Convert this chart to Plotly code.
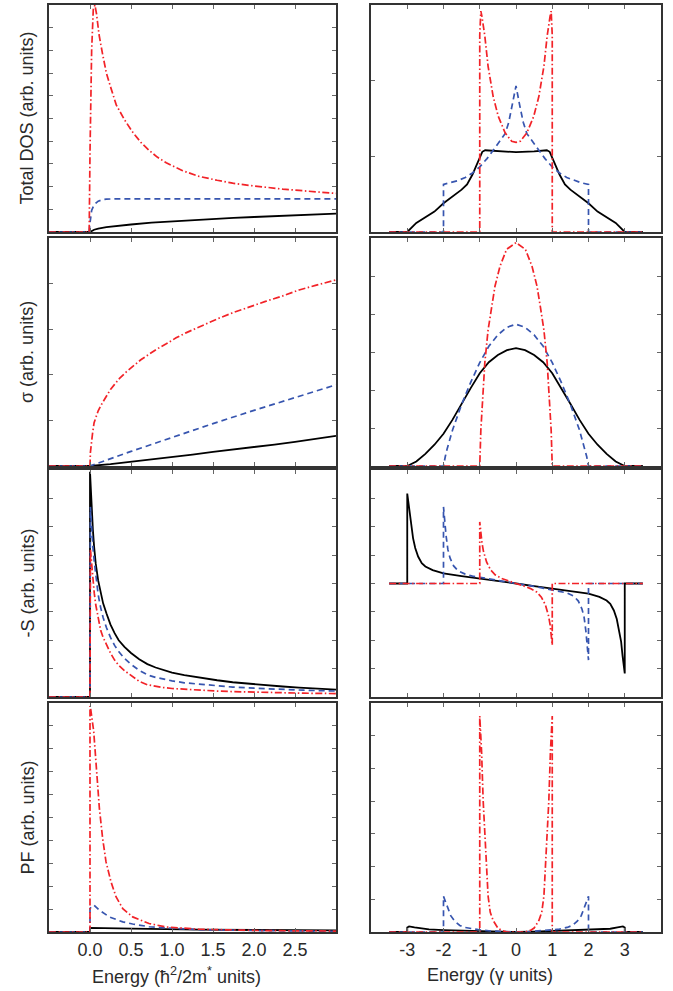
import plotly.graph_objects as go

# ---------------- data ----------------
# Row 1 left : Total DOS, parabolic band
dosL_E_black = [-0.5, 0.0, 0.05, 0.1, 0.2, 0.35, 0.5, 0.75, 1.0, 1.25, 1.5, 1.75, 2.0, 2.25, 2.5, 2.75, 3.0]
dosL_black = [0, 0, 0.10, 0.15, 0.21, 0.28, 0.33, 0.41, 0.47, 0.52, 0.57, 0.62, 0.66, 0.70, 0.74, 0.78, 0.81]
dosL_E_blue = [-0.5, -0.01, 0.0, 0.02, 0.05, 0.1, 0.15, 0.2, 0.3, 0.5, 1.0, 2.0, 3.0]
dosL_blue = [0, 0, 0.4, 0.95, 1.2, 1.36, 1.42, 1.45, 1.46, 1.46, 1.46, 1.46, 1.46]
dosL_E_red = [-0.5, -0.01, 0.0, 0.02, 0.04, 0.06, 0.08, 0.11, 0.15, 0.2, 0.25, 0.32, 0.42, 0.52, 0.62, 0.72,
              0.82, 0.93, 1.13, 1.33, 1.55, 1.74, 1.95, 2.15, 2.35, 2.55, 2.75, 3.0]
dosL_red = [0, 0, 3.5, 8.0, 9.8, 10.0, 9.6, 8.7, 7.9, 7.0, 6.4, 5.6, 4.95, 4.4, 3.95, 3.6,
            3.3, 3.05, 2.7, 2.45, 2.28, 2.15, 2.05, 1.96, 1.89, 1.83, 1.77, 1.70]

# Row 1 right : Total DOS, tight binding
dosR_E_black = [-3.5, -3.0, -2.75, -2.5, -2.25, -2.0, -1.75, -1.5, -1.35, -1.2, -1.1, -1.0, -0.93, -0.85, -0.5, 0.0,
                0.5, 0.85, 0.93, 1.0, 1.1, 1.2, 1.35, 1.5, 1.75, 2.0, 2.25, 2.5, 2.75, 3.0, 3.5]
dosR_black = [0, 0, 0.12, 0.19, 0.27, 0.38, 0.47, 0.56, 0.63, 0.76, 0.87, 0.97, 1.06, 1.08, 1.066, 1.055,
              1.066, 1.08, 1.06, 0.97, 0.87, 0.76, 0.63, 0.56, 0.47, 0.38, 0.27, 0.19, 0.12, 0, 0]
dosR_E_blue = [-3.5, -2.0, -2.0, -1.8, -1.6, -1.4, -1.2, -1.0, -0.8, -0.6, -0.45, -0.3, -0.2, -0.1, 0.0,
               0.1, 0.2, 0.3, 0.45, 0.6, 0.8, 1.0, 1.2, 1.4, 1.6, 1.8, 2.0, 2.0, 3.5]
dosR_blue = [0, 0, 0.63, 0.65, 0.68, 0.72, 0.78, 0.86, 0.97, 1.10, 1.20, 1.30, 1.45, 1.68, 1.93,
             1.68, 1.45, 1.30, 1.20, 1.10, 0.97, 0.86, 0.78, 0.72, 0.68, 0.65, 0.63, 0, 0]
dosR_E_red = [-3.5, -1.0, -1.0, -0.97, -0.94, -0.86, -0.77, -0.63, -0.49, -0.3, -0.12, 0.0,
              0.12, 0.3, 0.49, 0.63, 0.77, 0.86, 0.94, 0.97, 1.0, 1.0, 3.5]
dosR_red = [0, 0, 2.6, 2.92, 2.85, 2.59, 2.19, 1.79, 1.53, 1.31, 1.20, 1.185,
            1.20, 1.31, 1.53, 1.79, 2.19, 2.59, 2.85, 2.92, 2.6, 0, 0]

# Row 2 left : sigma, parabolic band
sigL_E_black = [-0.5, 0.0, 0.25, 0.5, 0.75, 1.0, 1.25, 1.5, 1.75, 2.0, 2.25, 2.5, 2.75, 3.0]
sigL_black = [0, 0, 0.04, 0.09, 0.14, 0.19, 0.25, 0.31, 0.36, 0.42, 0.47, 0.53, 0.60, 0.66]
sigL_E_blue = [-0.5, 0.0, 0.5, 1.0, 1.5, 2.0, 2.5, 3.0]
sigL_blue = [0, 0, 0.32, 0.63, 0.93, 1.22, 1.50, 1.78]
sigL_E_red = [-0.5, 0.0, 0.005, 0.015, 0.03, 0.05, 0.07, 0.1, 0.14, 0.19, 0.25, 0.3, 0.36, 0.44, 0.52, 0.62,
              0.72, 0.82, 0.93, 1.05, 1.17, 1.29, 1.41, 1.57, 1.74, 1.94, 2.14, 2.35, 2.55, 2.75, 3.0]
sigL_red = [0, 0, 0.3, 0.5, 0.7, 0.95, 1.07, 1.21, 1.35, 1.51, 1.68, 1.79, 1.92, 2.06, 2.18, 2.33,
            2.45, 2.57, 2.68, 2.81, 2.92, 3.02, 3.12, 3.24, 3.36, 3.49, 3.61, 3.73, 3.86, 3.96, 4.08]

# Row 2 right : sigma, tight binding
sigR_E_black = [-3.5, -3.0, -2.75, -2.5, -2.25, -2.0, -1.75, -1.5, -1.25, -1.0, -0.75, -0.5, -0.25, 0.0,
                0.25, 0.5, 0.75, 1.0, 1.25, 1.5, 1.75, 2.0, 2.25, 2.5, 2.75, 3.0, 3.5]
sigR_black = [0, 0, 0.12, 0.32, 0.56, 0.85, 1.22, 1.64, 2.05, 2.44, 2.73, 2.92, 3.05, 3.10,
              3.05, 2.92, 2.73, 2.44, 2.05, 1.64, 1.22, 0.85, 0.56, 0.32, 0.12, 0, 0]
sigR_E_blue = [-3.5, -2.0, -1.95, -1.9, -1.75, -1.5, -1.25, -1.0, -0.75, -0.5, -0.25, 0.0,
               0.25, 0.5, 0.75, 1.0, 1.25, 1.5, 1.75, 1.9, 1.95, 2.0, 3.5]
sigR_blue = [0, 0, 0.25, 0.45, 0.95, 1.62, 2.2, 2.72, 3.15, 3.45, 3.65, 3.73,
             3.65, 3.45, 3.15, 2.72, 2.2, 1.62, 0.95, 0.45, 0.25, 0, 0]
sigR_E_red = [-3.5, -1.0, -0.97, -0.9, -0.86, -0.77, -0.67, -0.58, -0.44, -0.26, 0.0,
              0.26, 0.44, 0.58, 0.67, 0.77, 0.86, 0.9, 0.97, 1.0, 3.5]
sigR_red = [0, 0, 0.94, 2.0, 2.72, 3.58, 4.2, 4.73, 5.26, 5.7, 5.88,
            5.7, 5.26, 4.73, 4.2, 3.58, 2.72, 2.0, 0.94, 0, 0]

# Row 3 left : -S, parabolic band
seeL_E_black = [-0.5, 0.0, 0.0, 0.01, 0.02, 0.035, 0.05, 0.07, 0.1, 0.13, 0.16, 0.2, 0.25, 0.3, 0.35, 0.42, 0.5,
                0.6, 0.7, 0.8, 0.9, 1.0, 1.15, 1.33, 1.55, 1.74, 1.95, 2.14, 2.35, 2.55, 2.75, 3.0]
seeL_black = [0, 0, 7.94, 7.3, 6.6, 5.9, 5.3, 4.7, 4.1, 3.65, 3.3, 2.95, 2.55, 2.25, 2.0, 1.77, 1.55,
              1.33, 1.16, 1.04, 0.94, 0.86, 0.77, 0.68, 0.59, 0.52, 0.46, 0.41, 0.37, 0.33, 0.29, 0.26]
seeL_E_blue = [-0.5, 0.0, 0.005, 0.02, 0.035, 0.05, 0.07, 0.1, 0.13, 0.16, 0.2, 0.25, 0.3, 0.35, 0.42, 0.5,
               0.6, 0.7, 0.8, 0.9, 1.0, 1.15, 1.33, 1.55, 1.74, 2.0, 2.3, 2.6, 3.0]
seeL_blue = [0, 0, 6.7, 5.9, 5.3, 4.83, 4.25, 3.6, 3.15, 2.8, 2.45, 2.1, 1.82, 1.6, 1.36, 1.15,
             0.94, 0.78, 0.69, 0.62, 0.57, 0.50, 0.45, 0.39, 0.35, 0.31, 0.27, 0.24, 0.21]
seeL_E_red = [-0.5, 0.0, 0.005, 0.02, 0.035, 0.052, 0.07, 0.1, 0.13, 0.16, 0.2, 0.25, 0.3, 0.35, 0.42, 0.5,
              0.6, 0.7, 0.8, 0.9, 1.0, 1.15, 1.33, 1.55, 1.74, 2.0, 2.3, 2.6, 3.0]
seeL_red = [0, 0, 5.2, 4.6, 4.1, 3.66, 3.25, 2.75, 2.35, 2.1, 1.85, 1.55, 1.3, 1.12, 0.93, 0.75,
            0.55, 0.43, 0.37, 0.33, 0.30, 0.27, 0.24, 0.21, 0.19, 0.17, 0.15, 0.135, 0.12]

# Row 3 right : -S, tight binding
seeR_E_black = [-3.5, -3.0, -3.0, -2.97, -2.94, -2.9, -2.84, -2.78, -2.7, -2.6, -2.5, -2.3, -2.0, -1.5, -1.0, -0.5, 0.0,
                0.5, 1.0, 1.5, 2.0, 2.3, 2.5, 2.6, 2.7, 2.78, 2.84, 2.9, 2.94, 2.97, 3.0, 3.0, 3.5]
seeR_black = [0, 0, 3.17, 2.85, 2.55, 2.05, 1.6, 1.25, 0.95, 0.72, 0.6, 0.47, 0.36, 0.26, 0.18, 0.09, 0,
              -0.09, -0.18, -0.26, -0.36, -0.47, -0.6, -0.72, -0.95, -1.25, -1.6, -2.05, -2.55, -2.85, -3.17, 0, 0]
seeR_E_blue = [-3.5, -2.0, -2.0, -1.97, -1.93, -1.88, -1.82, -1.72, -1.6, -1.4, -1.2, -1.0, -0.5, 0.0,
               0.5, 1.0, 1.2, 1.4, 1.6, 1.72, 1.82, 1.88, 1.93, 1.97, 2.0, 2.0, 3.5]
seeR_blue = [0, 0, 2.70, 2.2, 1.7, 1.2, 0.9, 0.62, 0.45, 0.33, 0.26, 0.22, 0.1, 0,
             -0.1, -0.22, -0.26, -0.33, -0.45, -0.62, -0.9, -1.2, -1.7, -2.2, -2.7, 0, 0]
seeR_E_red = [-3.5, -1.0, -1.0, -0.97, -0.94, -0.9, -0.81, -0.7, -0.57, -0.4, -0.2, 0.0,
              0.2, 0.4, 0.57, 0.7, 0.81, 0.9, 0.94, 0.97, 1.0, 1.0, 3.5]
seeR_red = [0, 0, 2.17, 1.75, 1.45, 1.15, 0.75, 0.48, 0.3, 0.18, 0.08, 0,
            -0.08, -0.18, -0.3, -0.48, -0.75, -1.15, -1.45, -1.75, -2.17, 0, 0]

# Row 4 left : power factor, parabolic band
pfL_E_black = [-0.5, 0.0, 0.0, 0.11, 0.52, 1.33, 3.0]
pfL_black = [0, 0, 0.18, 0.18, 0.15, 0.10, 0.07]
pfL_E_blue = [-0.5, 0.0, 0.0, 0.02, 0.05, 0.114, 0.235, 0.40, 0.52, 0.72, 0.93, 1.33, 2.14, 3.0]
pfL_blue = [0, 0, 1.02, 1.12, 1.17, 0.95, 0.66, 0.44, 0.35, 0.23, 0.18, 0.10, 0.06, 0.03]
pfL_E_red = [-0.5, 0.0, 0.0, 0.01, 0.045, 0.08, 0.114, 0.154, 0.195, 0.256, 0.317, 0.40, 0.52, 0.72, 0.93, 1.33, 2.14, 3.0]
pfL_red = [0, 0, 9.87, 9.7, 8.77, 7.02, 5.41, 4.09, 3.07, 2.19, 1.54, 1.02, 0.66, 0.37, 0.22, 0.12, 0.06, 0.04]

# Row 4 right : power factor, tight binding
pfR_E_black = [-3.5, -3.0, -3.0, -2.95, -2.8, -2.6, -2.4, -2.0, -1.5, -1.0, -0.5, 0.0,
               0.5, 1.0, 1.5, 2.0, 2.4, 2.6, 2.8, 2.95, 3.0, 3.0, 3.5]
pfR_black = [0, 0, 0.14, 0.17, 0.14, 0.1, 0.08, 0.06, 0.045, 0.03, 0.01, 0,
             0.01, 0.03, 0.045, 0.06, 0.08, 0.1, 0.14, 0.17, 0.14, 0, 0]
pfR_E_blue = [-3.5, -2.0, -2.0, -1.95, -1.87, -1.8, -1.69, -1.55, -1.41, -1.2, -1.04, -0.7, -0.3, 0.0,
              0.3, 0.7, 1.04, 1.2, 1.41, 1.55, 1.69, 1.8, 1.87, 1.95, 2.0, 2.0, 3.5]
pfR_blue = [0, 0, 1.09, 0.95, 0.73, 0.5, 0.33, 0.2, 0.14, 0.09, 0.07, 0.03, 0.005, 0,
            0.005, 0.03, 0.07, 0.09, 0.14, 0.2, 0.33, 0.5, 0.73, 0.95, 1.09, 0, 0]
pfR_E_red = [-3.5, -1.0, -1.0, -0.97, -0.95, -0.905, -0.84, -0.77, -0.71, -0.63, -0.5, -0.4, -0.25, 0.0,
             0.25, 0.4, 0.5, 0.63, 0.71, 0.77, 0.84, 0.905, 0.95, 0.97, 1.0, 1.0, 3.5]
pfR_red = [0, 0, 6.6, 6.1, 5.53, 4.0, 2.47, 1.1, 0.6, 0.35, 0.12, 0.05, 0, 0,
           0, 0.05, 0.12, 0.35, 0.6, 1.1, 2.47, 4.0, 5.53, 6.1, 6.6, 0, 0]

# tick labels and titles
left_ticks = [0.0, 0.5, 1.0, 1.5, 2.0, 2.5]
left_ticktext = ["0.0", "0.5", "1.0", "1.5", "2.0", "2.5"]
right_ticks = [-3, -2, -1, 0, 1, 2, 3]
right_ticktext = ["-3", "-2", "-1", "0", "1", "2", "3"]
y_titles = ["Total DOS (arb. units)", "σ (arb. units)", "-S (arb. units)", "PF (arb. units)"]
x_titles = ["Energy (ħ<sup>2</sup>/2m<sup>*</sup> units)", "Energy (γ units)"]

# ---------------- figure ----------------
W, H = 673, 991
FONT = "Arial, 'Liberation Sans', sans-serif"
TXT = "#2a2a2a"
BLACK = "#000000"
BLUE = "rgb(55,85,175)"
RED = "rgb(242,35,40)"


def px_x(p):
    return p / W


def px_y(p):
    return 1 - p / H


panels = [
    (dosL_E_black, dosL_black, dosL_E_blue, dosL_blue, dosL_E_red, dosL_red),
    (dosR_E_black, dosR_black, dosR_E_blue, dosR_blue, dosR_E_red, dosR_red),
    (sigL_E_black, sigL_black, sigL_E_blue, sigL_blue, sigL_E_red, sigL_red),
    (sigR_E_black, sigR_black, sigR_E_blue, sigR_blue, sigR_E_red, sigR_red),
    (seeL_E_black, seeL_black, seeL_E_blue, seeL_blue, seeL_E_red, seeL_red),
    (seeR_E_black, seeR_black, seeR_E_blue, seeR_blue, seeR_E_red, seeR_red),
    (pfL_E_black, pfL_black, pfL_E_blue, pfL_blue, pfL_E_red, pfL_red),
    (pfR_E_black, pfR_black, pfR_E_blue, pfR_blue, pfR_E_red, pfR_red),
]
y_ranges = [[0, 10], [0, 3], [0, 5], [0, 6], [0, 8], [-4, 4], [0, 10], [0, 7]]

col_px = [(49, 336), (371, 661)]
row_px = [(5, 232), (238, 466), (470, 697), (703, 932)]

fig = go.Figure()
layout = dict(
    width=W, height=H,
    margin=dict(l=0, r=0, t=0, b=0),
    paper_bgcolor="white", plot_bgcolor="white",
    showlegend=False,
    font=dict(family=FONT, size=18, color=TXT),
)

for i, (eb, yb, eu, yu, er, yr) in enumerate(panels):
    row, col = divmod(i, 2)
    n = i + 1
    xa = "x" if n == 1 else f"x{n}"
    ya = "y" if n == 1 else f"y{n}"
    common = dict(mode="lines", xaxis=xa, yaxis=ya, hoverinfo="skip")
    fig.add_trace(go.Scatter(x=eb, y=yb, line=dict(color=BLACK, width=1.8), **common))
    fig.add_trace(go.Scatter(x=eu, y=yu, line=dict(color=BLUE, width=1.7, dash="6px,4px"), **common))
    fig.add_trace(go.Scatter(x=er, y=yr, line=dict(color=RED, width=1.7, dash="7px,2.5px,1.5px,2.5px"), **common))

    x0, x1 = col_px[col]
    y0, y1 = row_px[row]
    xkey = "xaxis" if n == 1 else f"xaxis{n}"
    ykey = "yaxis" if n == 1 else f"yaxis{n}"
    bottom = (row == 3)
    layout[xkey] = dict(
        domain=[px_x(x0), px_x(x1)], anchor=ya,
        range=[-0.5, 3.0] if col == 0 else [-4, 4],
        tickmode="array",
        tickvals=left_ticks if col == 0 else right_ticks,
        ticktext=left_ticktext if col == 0 else right_ticktext,
        showticklabels=bottom,
        tickfont=dict(family=FONT, size=18, color=TXT),
        ticks="inside", ticklen=4, tickwidth=1, tickcolor="#666",
        showline=True, linecolor="#333", linewidth=2, mirror="allticks",
        showgrid=False, zeroline=False, fixedrange=True,
    )
    layout[ykey] = dict(
        domain=[px_y(y1), px_y(y0)], anchor=xa,
        range=y_ranges[i], dtick=1, tick0=0,
        showticklabels=False,
        ticks="inside", ticklen=4, tickwidth=1, tickcolor="#666",
        showline=True, linecolor="#333", linewidth=2, mirror="allticks",
        showgrid=False, zeroline=False, fixedrange=True,
    )

annotations = []
for r, t in enumerate(y_titles):
    y0, y1 = row_px[r]
    annotations.append(dict(
        text=t, x=px_x(27), y=px_y((y0 + y1) / 2), xref="paper", yref="paper",
        xanchor="center", yanchor="middle", textangle=-90, showarrow=False,
        font=dict(family=FONT, size=18, color=TXT)))
for t, cx in zip(x_titles, [176, 490]):
    annotations.append(dict(
        text=t, x=px_x(cx), y=px_y(975), xref="paper", yref="paper",
        xanchor="center", yanchor="middle", showarrow=False,
        font=dict(family=FONT, size=18, color=TXT)))
layout["annotations"] = annotations

fig.update_layout(**layout)
fig.write_html(
    "out.html", include_plotlyjs=True, config={"displayModeBar": False},
    post_script="document.body.style.margin='0';document.body.style.overflow='hidden';",
)
